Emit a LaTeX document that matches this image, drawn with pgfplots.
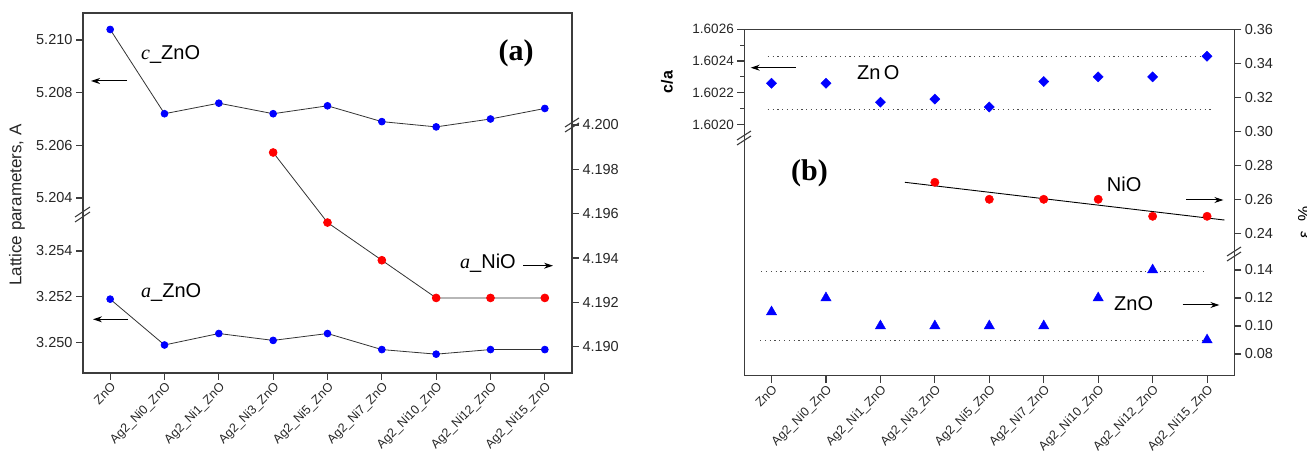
\documentclass[border=0pt]{standalone}
\usepackage{pgfplots}
\pgfplotsset{compat=1.18}
\usepackage{fontspec}
\setmainfont{Liberation Sans}
\newfontfamily\serif{Liberation Serif}
\usetikzlibrary{arrows.meta}
\definecolor{axgray}{RGB}{60,60,60}
\pgfplotsset{
  base/.style={scale only axis, xmin=-0.5, xmax=8.5, clip=false,
    axis line style={axgray, line width=1.2pt},
    every tick/.style={axgray, line width=1.1pt},
    major tick length=7pt, minor tick length=4pt,
    tick align=outside,
    /pgf/number format/assume math mode=true,
    yticklabel style={font=\fontsize{14.5}{16}\selectfont, text=black!85},
    xticklabel style={font=\fontsize{12.5}{14}\selectfont, text=black!85, rotate=45, anchor=north east, inner sep=1pt},
  },
  ov/.style={base, hide x axis, xtick=\empty},
}
\begin{document}
\begin{tikzpicture}
\useasboundingbox (0pt,0pt) rectangle (1307pt,461pt);
% ---------------- Panel (a) ----------------
\begin{axis}[base, at={(83pt,88pt)}, anchor=south west, width=489pt, height=360pt,
  ymin=5.197354, ymax=5.211025,
  xtick={0,...,8}, xtick pos=left, ytick pos=left,
  xticklabels={ZnO, Ag2\_Ni0\_ZnO, Ag2\_Ni1\_ZnO, Ag2\_Ni3\_ZnO, Ag2\_Ni5\_ZnO, Ag2\_Ni7\_ZnO, Ag2\_Ni10\_ZnO, Ag2\_Ni12\_ZnO, Ag2\_Ni15\_ZnO},
  ytick={5.204,5.206,5.208,5.210},
  yticklabel style={/pgf/number format/.cd, fixed, precision=3, zerofill}]
\addplot[black!80, line width=0.8pt, mark=*, mark size=3.4pt, mark options={fill=blue, draw=blue, solid}]
  coordinates {(0,5.2104) (1,5.2072) (2,5.2076) (3,5.2072) (4,5.2075) (5,5.2069) (6,5.2067) (7,5.2070) (8,5.2074)};
\end{axis}
\begin{axis}[ov, at={(83pt,88pt)}, anchor=south west, width=489pt, height=360pt,
  axis y line*=left, ymin=3.248678, ymax=3.264382,
  ytick={3.250,3.252,3.254},
  yticklabel style={/pgf/number format/.cd, fixed, precision=3, zerofill}]
\addplot[black!80, line width=0.8pt, mark=*, mark size=3.4pt, mark options={fill=blue, draw=blue, solid}]
  coordinates {(0,3.2519) (1,3.2499) (2,3.2504) (3,3.2501) (4,3.2504) (5,3.2497) (6,3.2495) (7,3.2497) (8,3.2497)};
\end{axis}
\begin{axis}[ov, at={(83pt,88pt)}, anchor=south west, width=489pt, height=360pt,
  axis y line*=right, ymin=4.188814, ymax=4.205052,
  ytick={4.190,4.192,4.194,4.196,4.198,4.200},
  yticklabel style={/pgf/number format/.cd, fixed, precision=3, zerofill}]
\addplot[black!80, line width=0.8pt, mark=*, mark size=3.9pt, mark options={fill=red, draw=red, solid}]
  coordinates {(3,4.19876) (4,4.1956) (5,4.1939) (6,4.1922) (7,4.1922) (8,4.1922)};
\end{axis}
% ---------------- Panel (b) ----------------
\begin{axis}[base, at={(744.3pt,85.3pt)}, anchor=south west, width=490pt, height=346.4pt,
  ymin=1.6004145, ymax=1.6026,
  xtick={0,...,8}, xtick pos=left, ytick pos=left,
  xticklabels={ZnO, Ag2\_Ni0\_ZnO, Ag2\_Ni1\_ZnO, Ag2\_Ni3\_ZnO, Ag2\_Ni5\_ZnO, Ag2\_Ni7\_ZnO, Ag2\_Ni10\_ZnO, Ag2\_Ni12\_ZnO, Ag2\_Ni15\_ZnO},
  ytick={1.6020,1.6022,1.6024,1.6026},
  minor ytick={1.6021,1.6023,1.6025},
  extra y ticks={1.600119}, extra y tick labels={},
  yticklabel style={font=\fontsize{13.5}{15}\selectfont, /pgf/number format/.cd, fixed, precision=4, zerofill}]
\addplot[black!70, line width=0.9pt, dash pattern=on 1.2pt off 3.6pt] coordinates {(-0.07,1.602427) (8.1,1.602427)};
\addplot[black!70, line width=0.9pt, dash pattern=on 1.2pt off 3.6pt] coordinates {(-0.07,1.602095) (8.1,1.602095)};
\addplot[only marks, mark=square*, mark size=3.6pt, mark options={fill=blue, draw=blue, rotate=45}]
  coordinates {(0,1.60226) (1,1.60226) (2,1.60214) (3,1.60216) (4,1.60211) (5,1.60227) (6,1.60230) (7,1.60230) (8,1.60243)};
\end{axis}
\begin{axis}[ov, at={(744.3pt,85.3pt)}, anchor=south west, width=490pt, height=346.4pt,
  axis y line*=right, ymin=0.15624, ymax=0.36,
  ytick={0.24,0.26,0.28,0.30,0.32,0.34,0.36},
  yticklabel style={/pgf/number format/.cd, fixed, precision=2, zerofill}]
\addplot[black, line width=0.9pt] coordinates {(2.45,0.2700) (8.32,0.2478)};
\addplot[only marks, mark=*, mark size=4.2pt, mark options={fill=red, draw=red}]
  coordinates {(3,0.27) (4,0.26) (5,0.26) (6,0.26) (7,0.25) (8,0.25)};
\end{axis}
\begin{axis}[ov, at={(744.3pt,85.3pt)}, anchor=south west, width=490pt, height=346.4pt,
  axis y line*=right, ymin=0.0645, ymax=0.31193,
  ytick={0.08,0.10,0.12,0.14},
  yticklabel style={/pgf/number format/.cd, fixed, precision=2, zerofill}]
\addplot[black!70, line width=0.9pt, dash pattern=on 1.2pt off 3.6pt] coordinates {(-0.19,0.1393) (7.94,0.1393)};
\addplot[black!70, line width=0.9pt, dash pattern=on 1.2pt off 3.6pt] coordinates {(-0.21,0.09) (7.94,0.09)};
\addplot[only marks, mark=triangle*, mark size=6pt, mark options={fill=blue, draw=blue}]
  coordinates {(0,0.11) (1,0.12) (2,0.10) (3,0.10) (4,0.10) (5,0.10) (6,0.12) (7,0.14) (8,0.09)};
\end{axis}
\begin{scope}[x=1pt,y=1pt]
% breaks (a)
\draw[axgray, line width=1.1pt] (75,461-222) -- (90,461-212) (75,461-217) -- (90,461-207);
\draw[axgray, line width=1.1pt] (565,461-132) -- (579,461-123) (565,461-127) -- (579,461-118);
% labels (a)
\node[rotate=90, font=\fontsize{17}{18}\selectfont, text=black!85] at (17,461-205) {Lattice parameters, A};
\node[anchor=west, font=\fontsize{20}{22}\selectfont, inner sep=0pt] at (141,461-55) {{\serif\itshape c}\_ZnO};
\node[anchor=west, font=\fontsize{20}{22}\selectfont, inner sep=0pt] at (141,461-292.7) {{\serif\itshape a}\_ZnO};
\node[anchor=west, font=\fontsize{20}{22}\selectfont, inner sep=0pt] at (460,461-263.3) {{\serif\itshape a}\_NiO};
\node[font=\fontsize{30}{32}\selectfont\serif\bfseries] at (516,461-53) {(a)};
\draw[-{Stealth[length=9pt,width=6pt]}, line width=1pt] (127,461-81) -- (91,461-81);
\draw[-{Stealth[length=9pt,width=6pt]}, line width=1pt] (128,461-319.3) -- (93,461-319.3);
\draw[-{Stealth[length=9pt,width=6pt]}, line width=1pt] (523,461-265.7) -- (553,461-265.7);
% breaks (b)
\draw[axgray, line width=1.1pt] (737,461-145) -- (751,461-136) (737,461-140) -- (751,461-131);
\draw[axgray, line width=1.1pt] (1227,461-261) -- (1241,461-252) (1227,461-256) -- (1241,461-247);
% labels (b)
\node[rotate=90, font=\fontsize{16}{18}\selectfont\bfseries] at (667,461-82) {c/a};
\node[anchor=west, font=\fontsize{20}{22}\selectfont, inner sep=0pt] at (857,461-72.7) {Zn\,O};
\node[font=\fontsize{30}{32}\selectfont\serif\bfseries] at (809.5,461-173.3) {(b)};
\node[anchor=west, font=\fontsize{20}{22}\selectfont, inner sep=0pt] at (1106.7,461-184) {NiO};
\node[anchor=west, font=\fontsize{20}{22}\selectfont, inner sep=0pt] at (1114,461-304) {ZnO};
\draw[-{Stealth[length=9pt,width=6pt]}, line width=1pt] (795.7,461-67.7) -- (750.7,461-67.7);
\draw[-{Stealth[length=9pt,width=6pt]}, line width=1pt] (1186,461-200) -- (1223.3,461-200);
\draw[-{Stealth[length=9pt,width=6pt]}, line width=1pt] (1182.7,461-305) -- (1219.3,461-305);
\node[rotate=90, font=\fontsize{17}{18}\selectfont] at (1305,461-222) {ε, \%};
\end{scope}
\end{tikzpicture}
\end{document}
